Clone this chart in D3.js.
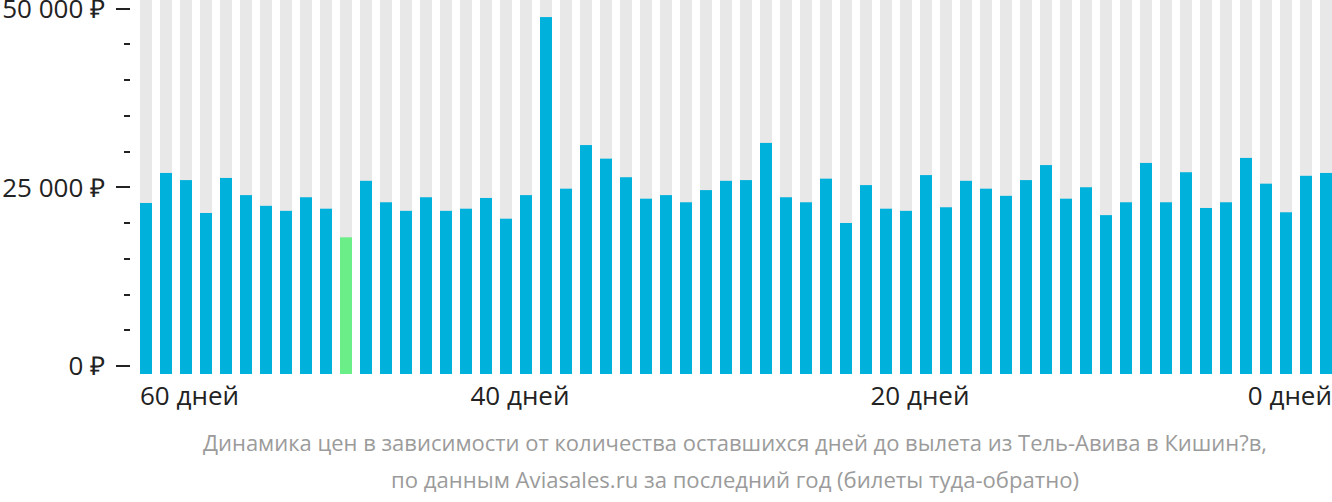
<!DOCTYPE html>
<html><head><meta charset="utf-8">
<script src="https://cdn.jsdelivr.net/npm/d3@7"></script>
<style>
html,body{margin:0;padding:0;background:#fff;}
svg{display:block;font-family:"Open Sans",sans-serif;}
</style></head>
<body><svg id="c" width="1332" height="502"></svg>
<script>
// days before departure: 59 .. 0
const days = d3.range(59, -1, -1);
const prices = [22800,27000,26000,21400,26300,23900,22400,21700,23600,22000,
                18000,25900,22900,21700,23600,21700,22000,23500,20600,23900,
                48800,24800,30900,29000,26400,23400,23900,22900,24600,25900,
                26000,31200,23600,22900,26200,20000,25300,22000,21700,26700,
                22200,25900,24800,23800,26000,28100,23400,25000,21100,22900,
                28400,22900,27100,22100,22900,29100,25500,21500,26600,27000];
const cheapestDay = 49;
const yTicks = [0, 25000, 50000];
const yMinorStep = 5000;
const xTickDays = [60, 40, 20, 0];
const captionLines = [
  "Динамика цен в зависимости от количества оставшихся дней до вылета из Тель-Авива в Кишин?в,",
  "по данным Aviasales.ru за последний год (билеты туда-обратно)"
];

const svg = d3.select("#c");
const x = d3.scaleBand().domain(days).range([140, 1332]).paddingInner(0.4).paddingOuter(0).align(0);
const y = d3.scaleLinear().domain([0, 50000]).range([366, 8.5]);
const baseY = 374, topY = 0;

// grey background columns
svg.append("g").selectAll("rect").data(days).join("rect")
  .attr("x", d => x(d)).attr("width", x.bandwidth())
  .attr("y", topY).attr("height", baseY - topY).attr("fill", "#e8e8e8");

// bars
svg.append("g").selectAll("rect").data(prices).join("rect")
  .attr("x", (v, i) => x(days[i])).attr("width", x.bandwidth())
  .attr("y", v => y(v)).attr("height", v => baseY - y(v))
  .attr("fill", (v, i) => days[i] === cheapestDay ? "#6bee88" : "#00b1dc");

// y axis ticks
const minor = d3.range(0, 50001, yMinorStep).filter(v => !yTicks.includes(v));
svg.append("g").selectAll("line").data(minor).join("line")
  .attr("x1", 124).attr("x2", 130)
  .attr("y1", v => Math.round(y(v))).attr("y2", v => Math.round(y(v)))
  .attr("stroke", "#222").attr("stroke-width", 2);
svg.append("g").selectAll("line").data(yTicks).join("line")
  .attr("x1", 116).attr("x2", 130)
  .attr("y1", v => Math.round(y(v))).attr("y2", v => Math.round(y(v)))
  .attr("stroke", "#222").attr("stroke-width", 2);
const fmt = v => d3.format(",")(v).replace(/,/g, " ") + " ₽";
svg.append("g").selectAll("text").data(yTicks).join("text")
  .attr("x", 105).attr("y", v => y(v)).attr("dy", "0.36em")
  .attr("text-anchor", "end").attr("font-size", 26).attr("fill", "#222")
  .text(fmt);

// x labels
svg.append("g").selectAll("text").data(xTickDays).join("text")
  .attr("x", (d, i) => i === 0 ? 140 : i === xTickDays.length - 1 ? 1332 : x(d))
  .attr("y", 405)
  .attr("text-anchor", (d, i) => i === 0 ? "start" : i === xTickDays.length - 1 ? "end" : "middle")
  .attr("font-size", 26).attr("fill", "#222")
  .text(d => d + " дней");

// caption
const capW = [1064, 688];
svg.append("g").selectAll("text").data(captionLines).join("text")
  .attr("x", 735).attr("y", (d, i) => 451 + i * 37)
  .attr("text-anchor", "middle").attr("font-size", 21).attr("fill", "#9b9b9b")
  .attr("textLength", (d, i) => capW[i]).attr("lengthAdjust", "spacingAndGlyphs")
  .text(d => d);
</script></body></html>
